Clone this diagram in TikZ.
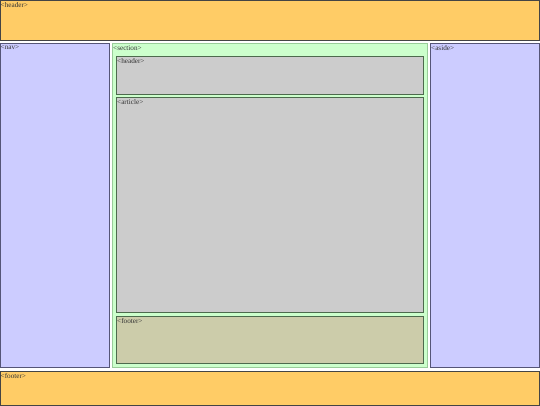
\documentclass[tikz,border=0pt]{standalone}
\usepackage{fontspec}
\setmainfont{Liberation Serif}
\definecolor{hdr}{HTML}{FFCC66}
\definecolor{navc}{HTML}{CCCCFF}
\definecolor{secc}{HTML}{CCFFCC}
\definecolor{artc}{HTML}{CCCCCC}
\definecolor{ftc}{HTML}{CCCCAA}
\definecolor{txt}{HTML}{333333}
\definecolor{outer}{HTML}{444444}
\definecolor{navb}{HTML}{555577}
\definecolor{secb}{HTML}{99CC99}
\definecolor{inb}{HTML}{4D6A4D}
\tikzset{
  lbl/.style={anchor=north west,inner sep=0pt,font=\fontsize{7.2}{7.5}\selectfont,text=txt},
  outerbox/.style={draw=outer,line width=1pt,fill=hdr},
  navbox/.style={draw=navb,line width=1pt,fill=navc},
  secbox/.style={draw=secb,line width=1pt,fill=secc},
  innerbox/.style={draw=inb,line width=1pt,fill=artc},
}
\begin{document}
\begin{tikzpicture}[x=1pt,y=-1pt]
\useasboundingbox (0,0) rectangle (540,405);
\fill[white] (0,0) rectangle (540,405);
% page header
\draw[outerbox] (0.5,0.5) rectangle (539.5,40.5);
\node[lbl] (th) at (0.5,2) {<header>};
% nav
\draw[navbox] (0.5,43.5) rectangle (109.5,367.5);
\node[lbl] (tn) at (0.5,45.5) {<nav>};
% section
\draw[secbox] (112.5,43.5) rectangle (427,367.5);
\node[lbl] (ts) at (113,45.5) {<section>};
% section header
\draw[innerbox] (116.5,56) rectangle (423.5,94);
\node[lbl] (tsh) at (117,58) {<header>};
% article
\draw[innerbox] (116.5,97.5) rectangle (423.5,312.5);
\node[lbl] (ta) at (117,99.5) {<article>};
% section footer
\draw[innerbox,fill=ftc] (116.5,316.5) rectangle (423.5,363.5);
\node[lbl] (tsf) at (117,318.5) {<footer>};
% aside
\draw[navbox] (430.5,43.5) rectangle (539.5,367.5);
\node[lbl] (tas) at (431,45.5) {<aside>};
% page footer
\draw[outerbox] (0.5,371) rectangle (539.5,405.5);
\node[lbl] (tf) at (0.5,373) {<footer>};
\end{tikzpicture}
\end{document}
